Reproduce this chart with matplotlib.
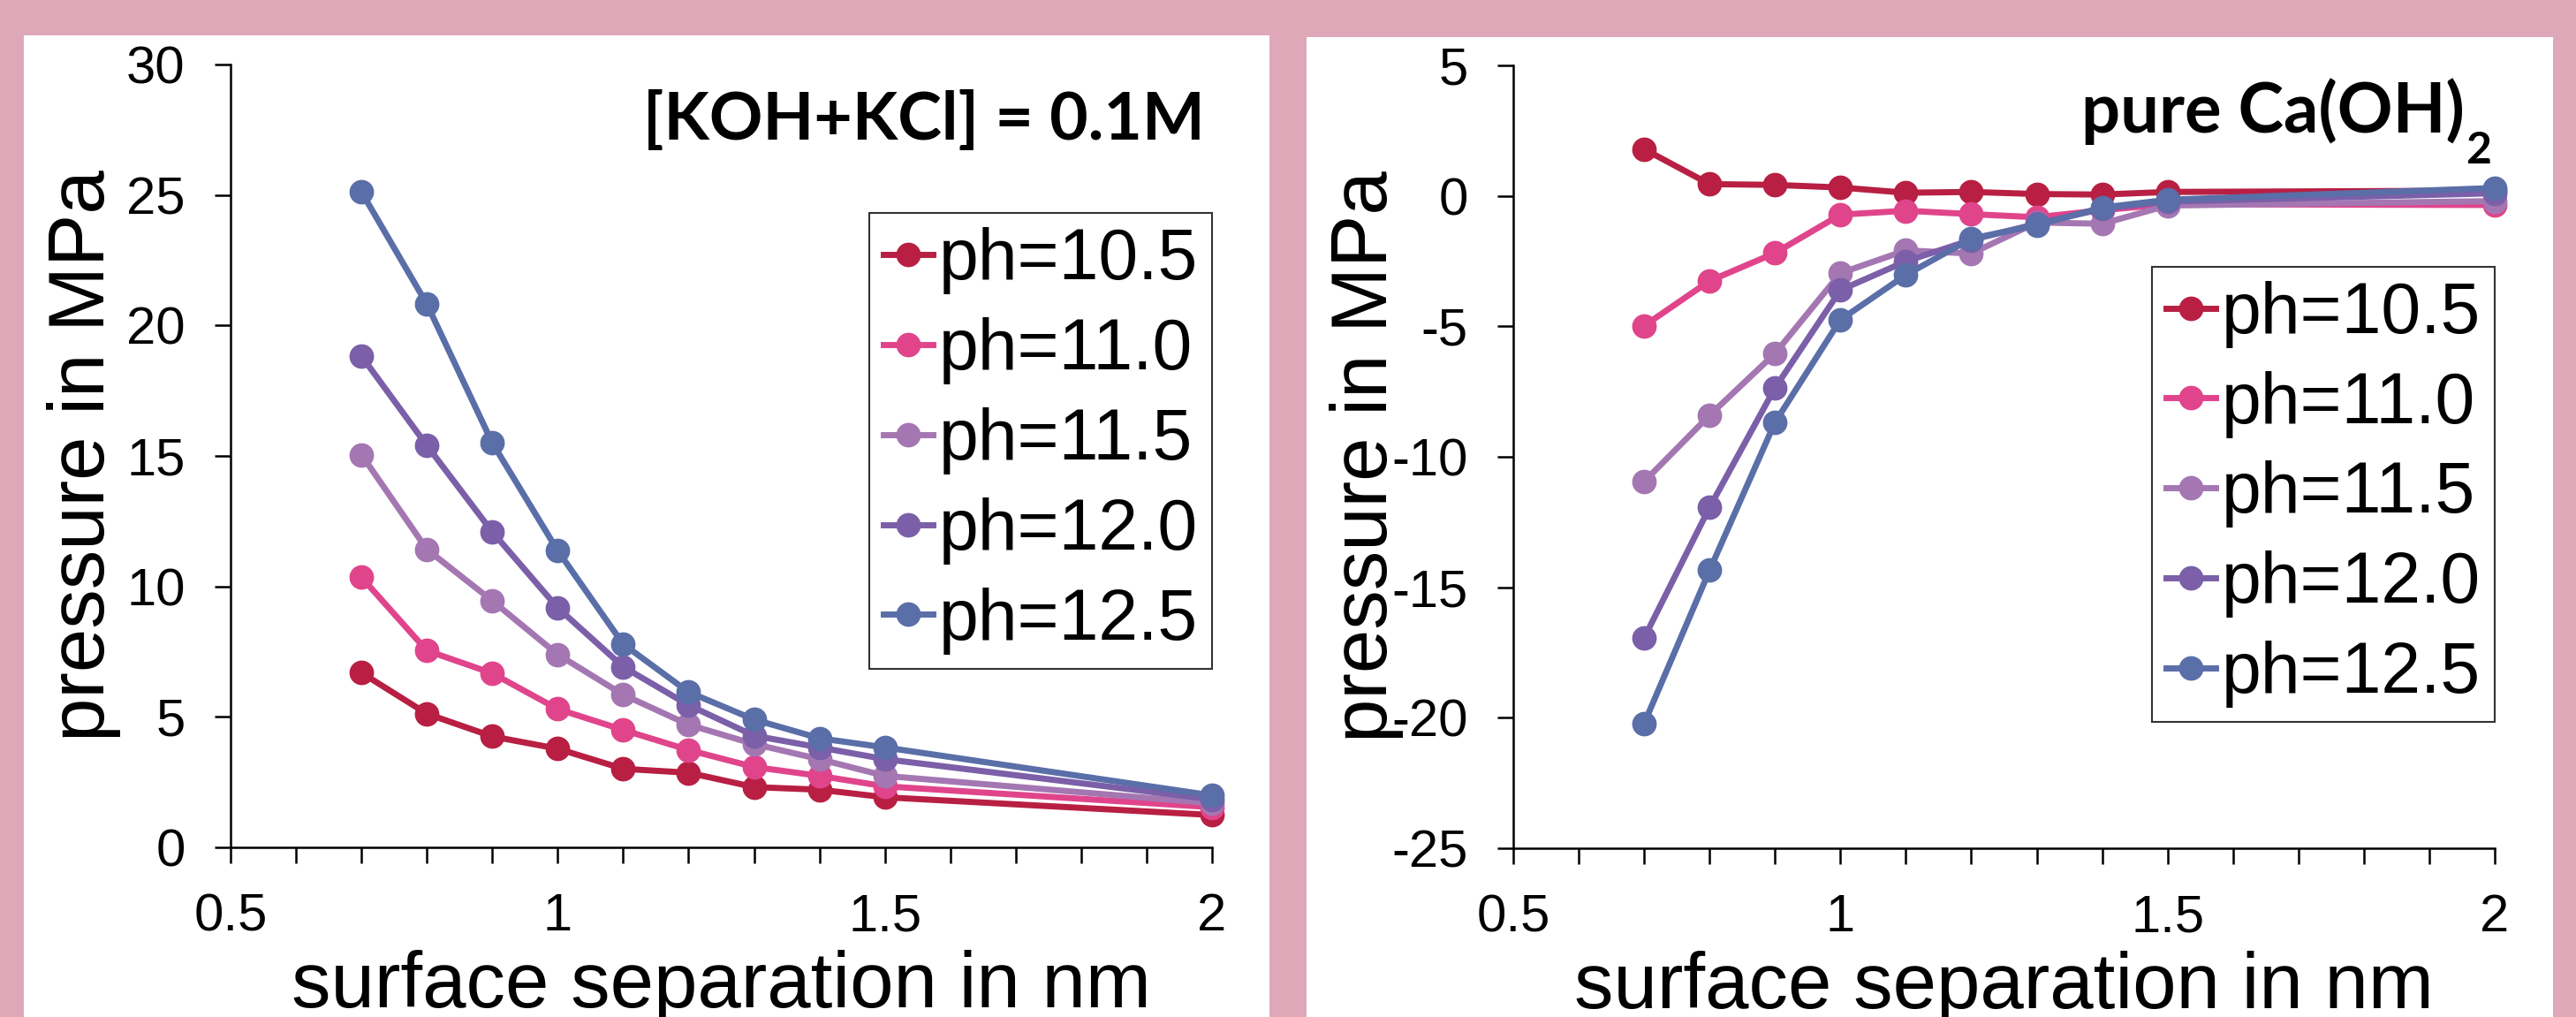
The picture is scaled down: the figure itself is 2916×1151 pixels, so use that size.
import matplotlib
matplotlib.use("Agg")
import matplotlib.pyplot as plt
from matplotlib.patches import Rectangle
from matplotlib.ticker import MultipleLocator

plt.rcParams['font.family'] = ['Liberation Sans', 'DejaVu Sans']
plt.rcParams['axes.unicode_minus'] = False

# surface separation (nm)
separation = [0.7, 0.8, 0.9, 1.0, 1.1, 1.2, 1.3, 1.4, 1.5, 2.0]
labels = ['ph=10.5', 'ph=11.0', 'ph=11.5', 'ph=12.0', 'ph=12.5']
colors = ['#b81f43', '#e0458c', '#a477b2', '#7b5fa8', '#5a6ea8']

# left panel: [KOH+KCl] = 0.1M
koh_105 = [6.69, 5.12, 4.25, 3.78, 3.01, 2.86, 2.31, 2.21, 1.92, 1.24]
koh_110 = [10.35, 7.54, 6.67, 5.30, 4.50, 3.73, 3.08, 2.74, 2.34, 1.54]
koh_115 = [15.05, 11.42, 9.45, 7.39, 5.85, 4.70, 3.96, 3.38, 2.74, 1.69]
koh_120 = [18.83, 15.40, 12.09, 9.18, 6.92, 5.45, 4.28, 3.83, 3.38, 1.84]
koh_125 = [25.12, 20.82, 15.50, 11.37, 7.79, 5.95, 4.90, 4.18, 3.83, 1.99]

# right panel: pure Ca(OH)2
ca_105 = [1.79, 0.45, 0.42, 0.32, 0.12, 0.15, 0.07, 0.05, 0.15, 0.20]
ca_110 = [-4.98, -3.26, -2.19, -0.72, -0.57, -0.70, -0.82, -0.55, -0.32, -0.35]
ca_115 = [-10.95, -8.41, -6.04, -2.96, -2.09, -2.21, -1.02, -1.07, -0.37, -0.20]
ca_120 = [-16.94, -11.94, -7.36, -3.61, -2.51, -1.69, -1.07, -0.50, -0.22, 0.10]
ca_125 = [-20.22, -14.35, -8.68, -4.75, -3.03, -1.64, -1.12, -0.45, -0.15, 0.30]

W, H = 2916, 1151
fig = plt.figure(figsize=(W / 100, H / 100), dpi=100, facecolor='#dfa8b9')

# white panels behind each chart
for x0, x1, y0 in [(27, 1437, 40), (1479, 2890, 42)]:
    fig.patches.append(Rectangle((x0 / W, 0), (x1 - x0) / W, 1 - y0 / H,
                                 transform=fig.transFigure, facecolor='white',
                                 edgecolor='none', zorder=-10))


def draw_panel(ax, series, ylim, yticks, legend_top):
    for vals, lab, col in zip(series, labels, colors):
        ax.plot(separation, vals, color=col, lw=5, marker='o', ms=19,
                label=lab, clip_on=False)
    ax.set_xlim(0.5, 2)
    ax.set_ylim(*ylim)
    ax.set_yticks(yticks)
    ax.xaxis.set_major_locator(MultipleLocator(0.5))
    ax.xaxis.set_minor_locator(MultipleLocator(0.1))
    ax.xaxis.set_major_formatter(matplotlib.ticker.FuncFormatter(lambda v, p: f'{v:g}'))
    ax.set_facecolor('none')
    for s in ['top', 'right']:
        ax.spines[s].set_visible(False)
    for s in ['left', 'bottom']:
        ax.spines[s].set_linewidth(1.8)
    ax.tick_params(axis='both', which='both', direction='out', length=13,
                   width=1.8, labelsize=43, pad=24)
    ax.set_xlabel('surface separation in nm', fontsize=64)
    ax.set_ylabel('pressure in MPa', fontsize=64)
    ax.xaxis.set_label_coords(0.5, -0.131)
    ax.yaxis.set_label_coords(-0.112, 0.5)
    leg = ax.legend(loc='upper right', bbox_to_anchor=(1.0, legend_top),
                    borderaxespad=0, fontsize=58, frameon=True, fancybox=False,
                    edgecolor='black', handlelength=0.7, handletextpad=0.08,
                    labelspacing=0.32, borderpad=0.2, numpoints=1)
    leg.get_frame().set_linewidth(1.5)


ax1 = fig.add_axes([261 / W, 1 - 959 / H, 1111 / W, 886 / H])
draw_panel(ax1, [koh_105, koh_110, koh_115, koh_120, koh_125],
           (0, 30), range(0, 31, 5), 0.81)
ax1.text(1364 / W, 1 - 158 / H, '[KOH+KCl] = 0.1M', transform=fig.transFigure,
         ha='right', va='baseline', fontsize=54, fontweight='bold', family='Lato')

ax2 = fig.add_axes([1713 / W, 1 - 960 / H, 1111 / W, 886 / H])
draw_panel(ax2, [ca_105, ca_110, ca_115, ca_120, ca_125],
           (-25, 5), range(-25, 6, 5), 0.743)
t = ax2.text(2790 / W, 1 - 150 / H, 'pure Ca(OH)', transform=fig.transFigure,
             ha='right', va='baseline', fontsize=56, fontweight='bold', family='Lato')
ax2.annotate('2', xy=(1, 0), xycoords=t, xytext=(1, -15), textcoords='offset points',
             ha='left', va='baseline', fontsize=36, fontweight='bold', family='Lato')

fig.savefig('out.png', dpi=100, facecolor=fig.get_facecolor())
